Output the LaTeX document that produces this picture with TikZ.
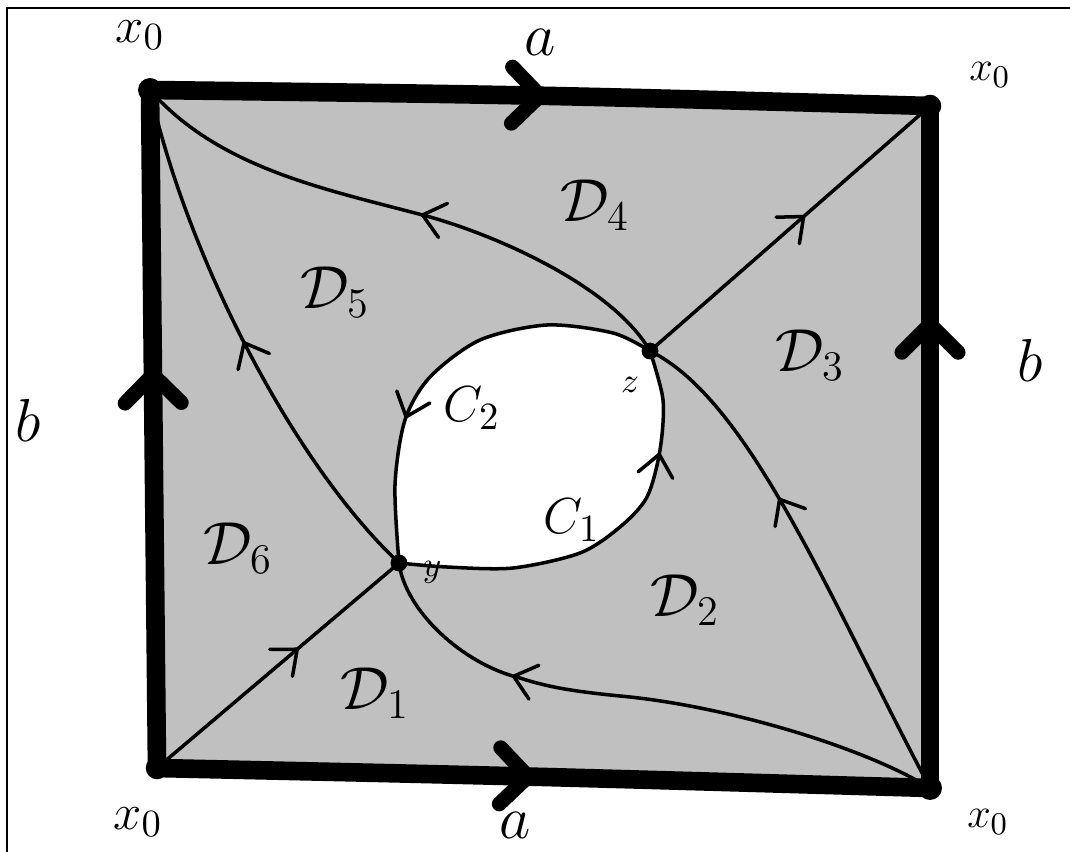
\documentclass[tikz,border=0pt]{standalone}
\usetikzlibrary{decorations.markings}
\definecolor{regiongray}{RGB}{192,192,192}
\begin{document}
\begin{tikzpicture}[x=0.01cm,y=-0.01cm,
  edge/.style={line width=5.3pt, line join=round, line cap=round},
  curve/.style={line width=1pt},
  smallchev/.style={line width=1pt, line cap=round, line join=round},
  bigchev/.style={line width=4.2pt, line cap=round, line join=round},
  flowmark/.style={postaction={decorate}, decoration={markings, mark=at position #1 with {\draw[smallchev] (-6pt,5pt) -- (0pt,0pt) -- (-6pt,-5pt);}}},
  edgemark/.style={postaction={decorate}, decoration={markings, mark=at position #1 with {\draw[bigchev] (-8pt,8pt) -- (0pt,0pt) -- (-8pt,-8pt);}}},
  lblD/.style={inner sep=0pt, font=\fontsize{17}{20}\selectfont},
  lblC/.style={inner sep=0pt, font=\fontsize{15}{18}\selectfont},
  lblX/.style={inner sep=0pt, font=\fontsize{15}{18}\selectfont},
  lblXs/.style={inner sep=0pt, font=\fontsize{13}{16}\selectfont},
  lblE/.style={inner sep=0pt, font=\fontsize{19}{22}\selectfont},
  lblP/.style={inner sep=0pt, font=\fontsize{10}{12}\selectfont}]
\useasboundingbox (0,0) rectangle (1070,852);
\draw[line width=0.8pt] (7,900) -- (7,8) -- (1100,8);

\coordinate (TL) at (150,90);
\coordinate (TR) at (930,106);
\coordinate (BR) at (930,788);
\coordinate (BL) at (157,768);
\coordinate (z) at (650,351);
\coordinate (y) at (399,563);
\coordinate (m1) at (430,217);
\coordinate (m2) at (520,678);

% gray region
\fill[regiongray] (TL) .. controls (540,95) .. (TR) -- (BR) .. controls (520,776) .. (BL) -- cycle;
% white hole
\fill[white] plot[smooth] coordinates {(y) (447,567) (513,568) (580,553) (620,527) (647,497) (660,450) (663,400) (z)}
  -- plot[smooth] coordinates {(z) (613,333) (547,325) (480,340) (430,377) (405,420) (395,485) (y)} -- cycle;

% inner curves
\draw[curve, flowmark=0.47] (z) .. controls (615,290) and (507,239) .. (m1)
  .. controls (330,190) and (220,170) .. (TL);
\draw[curve, flowmark=0.5] (y) .. controls (290,460) and (185,250) .. (TL);
\draw[curve, flowmark=0.55] (z) -- (TR);
\draw[curve, flowmark=0.58] (BL) -- (y);
\draw[curve, flowmark=0.72] (BR) .. controls (860,745) and (720,705) .. (620,696)
  .. controls (580,692) and (550,688) .. (m2)
  .. controls (462,664) and (405,610) .. (y);
\draw[curve, flowmark=0.62] (BR) .. controls (830,600) and (750,400) .. (z);
\draw[curve, flowmark=0.75] plot[smooth] coordinates {(y) (447,567) (513,568) (580,553) (620,527) (647,497) (660,450) (663,400) (z)};
\draw[curve, flowmark=0.66] plot[smooth] coordinates {(z) (613,333) (547,325) (480,340) (430,377) (405,420) (395,485) (y)};

% thick edges
\draw[edge, edgemark=0.5] (TL) .. controls (540,95) .. (TR);
\draw[edge, edgemark=0.58] (BL) -- (TL);
\draw[edge, edgemark=0.68] (BR) -- (TR);
\draw[edge, edgemark=0.48] (BL) .. controls (520,776) .. (BR);

% points
\fill (TL) circle[radius=3.4pt];
\fill (TR) circle[radius=3.2pt];
\fill (BR) circle[radius=3.4pt];
\fill (BL) circle[radius=3.2pt];
\fill (z) circle[radius=2.4pt];
\fill (y) circle[radius=2.4pt];

% labels
\node[lblX] (x0a) at (140,35) {$x_0$};
\node[lblXs] (x0b) at (990,75) {$x_0$};
\node[lblX] (x0c) at (138,822) {$x_0$};
\node[lblXs] (x0d) at (988,822) {$x_0$};
\node[lblE] (atop) at (540,42) {$a$};
\node[lblE] (abot) at (515,825) {$a$};
\node[lblE] (bleft) at (28,420) {$b$};
\node[lblE] (bright) at (1030,360) {$b$};

\node[lblD] (d1) at (375,693) {$\mathcal{D}_1$};
\node[lblD] (d2) at (685,600) {$\mathcal{D}_2$};
\node[lblD] (d3) at (810,355) {$\mathcal{D}_3$};
\node[lblD] (d4) at (595,205) {$\mathcal{D}_4$};
\node[lblD] (d5) at (335,292) {$\mathcal{D}_5$};
\node[lblD] (d6) at (238,548) {$\mathcal{D}_6$};
\node[lblC] (c1) at (572,520) {$C_1$};
\node[lblC] (c2) at (472,408) {$C_2$};
\node[lblP] (zl) at (630,385) {$z$};
\node[lblP] (yl) at (432,572) {$y$};
\end{tikzpicture}
\end{document}
